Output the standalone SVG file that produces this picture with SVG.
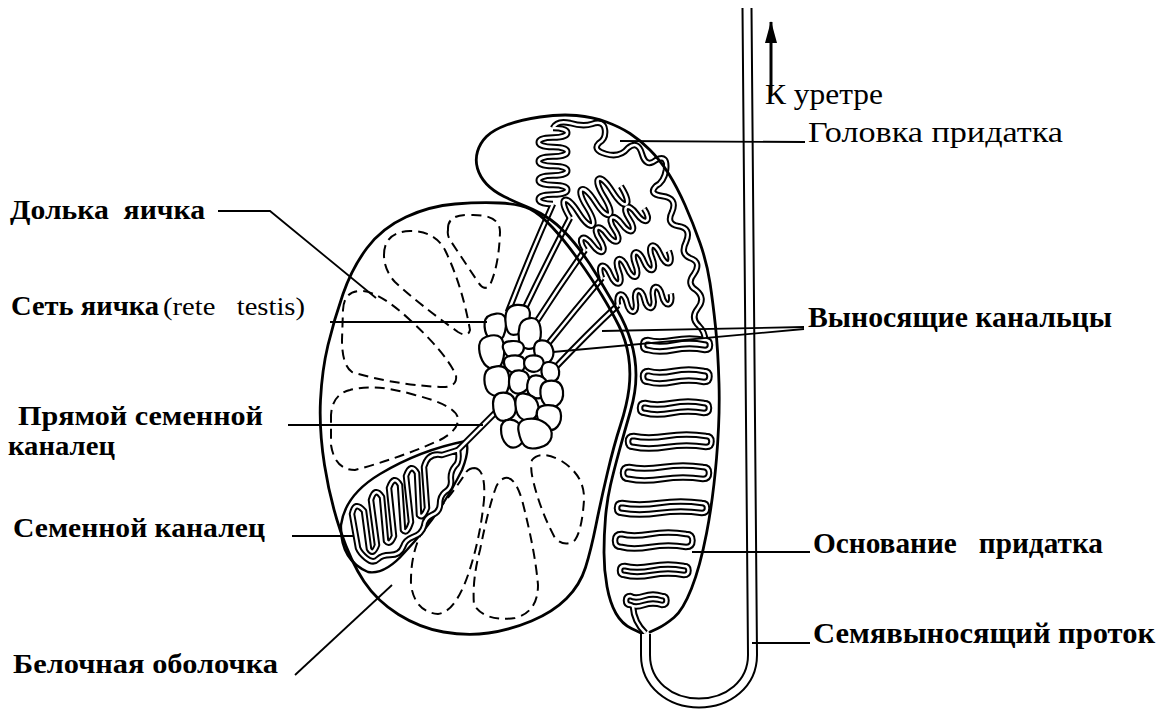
<svg xmlns="http://www.w3.org/2000/svg" width="1157" height="714" viewBox="0 0 1157 714">
<style>
.o{fill:none;stroke:#000;stroke-width:2.8;stroke-linejoin:round;stroke-linecap:round}
.o2{fill:none;stroke:#000;stroke-width:2.4;stroke-linejoin:round}
.dash{fill:none;stroke:#000;stroke-width:2;stroke-dasharray:10 6}
.cell{fill:#fff;stroke:#000;stroke-width:2.2;stroke-linejoin:round;vector-effect:non-scaling-stroke}
.ld{fill:none;stroke:#000;stroke-width:1.8}
.tb{fill:none;stroke:#000;stroke-width:6.5;stroke-linejoin:round}
.tw{fill:none;stroke:#fff;stroke-width:2.5;stroke-linejoin:round}
.vb{fill:none;stroke:#000;stroke-width:11}
.vw{fill:none;stroke:#fff;stroke-width:7}
.lb{font-family:"Liberation Serif","DejaVu Serif",serif;font-weight:700;font-size:27px;fill:#000}
.lr{font-family:"Liberation Serif","DejaVu Serif",serif;font-size:25px;fill:#000}
.rr{font-family:"Liberation Serif","DejaVu Serif",serif;font-size:30px;fill:#000}
.rb{font-family:"Liberation Serif","DejaVu Serif",serif;font-weight:700;font-size:29px;fill:#000}
</style>
<defs>
<marker id="ah" markerUnits="userSpaceOnUse" viewBox="0 0 22 12" refX="21" refY="6" markerWidth="22" markerHeight="12" orient="auto">
<path d="M0,0 L22,6 L0,12 z" fill="#000"/>
</marker>
<path id="hpA" d="M0,0 C0,-19 9.5,-19 9.5,0 S19,19 19,0 S28.5,-19 28.5,0 S38,19 38,0 S47.5,-19 47.5,0 S57,19 57,0 S66.5,-19 66.5,0 S76,19 76,0"/>
<path id="hpB" d="M0,0 C0,-24 10,-24 10,0 S20,24 20,0 S30,-24 30,0 S40,24 40,0 S50,-24 50,0 S60,24 60,0"/>
<path id="swC" d="M0,0 C0,-15 9,-15 9,0 S18,15 18,0 S27,-15 27,0 S36,15 36,0 S45,-15 45,0 S54,15 54,0 S63,-15 63,0 S72,15 72,0"/>
<path id="swD" d="M0,0 C0,-13 9,-13 9,0 S18,13 18,0 S27,-13 27,0 S36,13 36,0 S45,-13 45,0 S54,13 54,0"/>
<g id="tubes">
<path d="M458,450 Q460,462 455,466 Q450,472 451,480 Q452,488 445,492 Q440,496 440,504 Q440,512 432,515 Q425,518 424,526 Q422,534 413,537 Q405,540 403,547 Q400,555 390,555 Q382,555 378,559 Q373,564 366,558 Q360,553 358,548 L352,514 Q355,500 364,511 L369,549 Q373,556 377,545 L371,500 Q375,486 382,497 L386,541 Q390,546 394,536 L389,488 Q394,474 400,485 L403,530 Q407,535 411,522 L406,476 Q411,462 417,473 L419,515 Q423,519 427,508 L424,467 Q428,452 442,455 L458,450"/>
<path d="M457,451 L498,410"/>
<path d="M508,312 Q530,255 553,204"/>
<path d="M522,314 Q547,262 570,218"/>
<path d="M535,324 Q560,285 585,250"/>
<path d="M547,345 Q575,310 602,278"/>
<path d="M553,370 Q588,333 618,305"/>
<use href="#hpA" transform="translate(553,204) rotate(-90)"/>
<use href="#hpB" transform="translate(570,218) rotate(-32)"/>
<use href="#swC" transform="translate(585,250) rotate(-35)"/>
<use href="#swC" transform="translate(602,278) rotate(-22)"/>
<use href="#swD" transform="translate(618,305) rotate(-12)"/>
<path d="M553,128 Q557,120 570,123 Q583,127 592,124 Q604,120 605,130 Q606,139 599,143 Q592,150 606,154 Q620,158 628,148 Q638,140 642,154 Q646,168 656,160 Q668,154 666,170 Q664,182 656,186 Q648,194 662,196 Q678,198 672,212 Q666,224 678,226 Q692,228 686,242 Q680,254 690,258 Q702,262 694,274 Q686,284 696,290 Q706,298 698,308 Q690,318 699,326 Q705,332 705,340"/>
<path d="M705,340 Q689.5,337 674,340 Q658.5,343 648,340 Q643,340 643,345 Q643,350 648,350 Q658.5,353 674,350 Q689.5,347 705,350 Q710,350 710,345 Q710,340 705,340 Z"/>
<path d="M704,371 Q688.75,368 673.5,371 Q658.25,374 648.5,371 Q643,371 643,376.5 Q643,382 648.5,382 Q658.25,385 673.5,382 Q688.75,379 704,382 Q709.5,382 709.5,376.5 Q709.5,371 704,371 Z"/>
<path d="M704,403 Q688,400 672,403 Q656,406 645,403 Q640,403 640,408 Q640,413 645,413 Q656,416 672,413 Q688,410 704,413 Q709,413 709,408 Q709,403 704,403 Z"/>
<path d="M706,436 Q686.5,433 667,436 Q647.5,439 633.5,436 Q628,436 628,441.5 Q628,447 633.5,447 Q647.5,450 667,447 Q686.5,444 706,447 Q711.5,447 711.5,441.5 Q711.5,436 706,436 Z"/>
<path d="M703,467 Q683,464 663,467 Q643,470 629,467 Q623,467 623,473 Q623,479 629,479 Q643,482 663,479 Q683,476 703,479 Q709,479 709,473 Q709,467 703,467 Z"/>
<path d="M702,503 Q680.75,500 659.5,503 Q638.25,506 622,503 Q617,503 617,508 Q617,513 622,513 Q638.25,516 659.5,513 Q680.75,510 702,513 Q707,513 707,508 Q707,503 702,503 Z"/>
<path d="M686,534 Q668.25,531 650.5,534 Q632.75,537 621.5,534 Q615,534 615,540.5 Q615,547 621.5,547 Q632.75,550 650.5,547 Q668.25,544 686,547 Q692.5,547 692.5,540.5 Q692.5,534 686,534 Z"/>
<path d="M684,566 Q668,563 652,566 Q636,569 624.5,566 Q620,566 620,570.5 Q620,575 624.5,575 Q636,578 652,575 Q668,572 684,575 Q688.5,575 688.5,570.5 Q688.5,566 684,566 Z"/>
<path d="M662,596 Q653,593 644,596 Q635,599 630.5,596 Q626,596 626,600.5 Q626,605 630.5,605 Q635,608 644,605 Q653,602 662,605 Q666.5,605 666.5,600.5 Q666.5,596 662,596 Z"/>
<path d="M633,607 Q634,622 645.5,633"/>
</g>
</defs>

<g id="lobules">
<path class="dash" d="M448,230 Q447,214 470,215 Q500,214 500,232 Q499,265 490,285 Q484,292 478,282 Q460,255 450,240 Q447,235 448,230 Z"/>
<path class="dash" d="M384,255 Q384,232 410,231 Q435,231 445,250 Q462,285 470,330 Q468,338 458,332 Q420,305 395,282 Q384,270 384,255 Z"/>
<path class="dash" d="M343,310 Q344,290 362,291 Q380,292 410,320 Q445,352 456,375 Q458,388 440,387 Q390,384 352,372 Q342,365 342,340 Z"/>
<path class="dash" d="M331,420 Q330,395 350,390 Q375,383 415,395 Q455,405 458,418 Q459,430 440,440 Q400,458 355,470 Q335,470 331,445 Z"/>
<path class="dash" d="M475,468 Q486,470 484,500 Q480,540 468,575 Q455,612 438,614 Q415,612 411,585 Q410,545 430,520 Q455,490 465,474 Q468,468 475,468 Z"/>
<path class="dash" d="M505,478 Q515,476 522,500 Q535,550 538,585 Q538,612 515,618 Q485,622 474,605 Q472,580 480,550 Q488,510 495,490 Q498,480 505,478 Z"/>
<path class="dash" d="M532,460 Q540,450 560,460 Q585,475 584,500 Q582,530 575,540 Q565,548 555,538 Q540,510 533,480 Q530,468 532,460 Z"/>
<path class="o2" d="M466,441 Q420,450 380,474 Q345,495 341,525 Q340,560 368,572 Q385,575 405,552 Q440,515 462,470 Q470,450 466,441 Z"/>
</g>

<g id="tubules">
<use href="#tubes" class="tb"/>
<use href="#tubes" class="tw"/>
</g>

<g id="testis">
<path class="o" d="M488.5,633 Q467,636 443.5,632 Q420,628 398.5,614.5 Q377,601 364,581.5 Q351,562 340.5,531 Q330,500 324.5,465 Q319,430 320.5,400 Q322,370 328,345 Q334,320 343,294 Q352,268 367,248 Q382,228 406,217 Q430,206 455,204 Q480,202 500,203 Q520,204 530,209 Q540,214 552.5,227.5 Q565,241 578.5,260 Q592,279 602,295.5 Q612,312 619,326 Q626,340 628.5,356 Q631,372 629,388.5 Q627,405 620.5,425 Q614,445 607.5,472.5 Q601,500 596,525 Q591,550 585.5,567.5 Q580,585 566.5,598.5 Q553,612 531.5,621 Q510,630 488.5,633 Z"/>
</g>

<g id="epididymis">
<path class="o" d="M641,633 L631.5,628.5 Q622,624 616,613.5 Q610,603 607,586.5 Q604,570 604,552.5 Q604,535 605.5,517.5 Q607,500 610.5,485 Q614,470 619.5,450 Q625,430 630.5,411 Q636,392 636,375 Q636,358 631,341.5 Q626,325 617,309.5 Q608,294 597,275.5 Q586,257 574,242.5 Q562,228 551,220 Q540,212 527.5,207 Q515,202 504,196.5 Q493,191 486.5,184 Q480,177 477.5,168.5 Q475,160 477.5,151.5 Q480,143 486.5,136.5 Q493,130 506.5,125 Q520,120 540,117 Q560,114 576.5,115.5 Q593,117 606.5,122 Q620,127 630,133.5 Q640,140 650,150 Q660,160 668.5,173.5 Q677,187 685,205 Q693,223 700,243 Q707,263 710,283 Q713,303 715.5,326.5 Q718,350 719,383.5 Q720,417 716.5,458.5 Q713,500 706.5,533.5 Q700,567 691.5,588.5 Q683,610 674,617.5 Q665,625 657.5,628.5 L650,632"/>
</g>

<g id="rete">
<path class="cell" transform="matrix(1.22,0,0,1.22,-108.9,-71.94)" d="M486.5,323.5 Q487,317 496,316 Q505,315 504,326 Q503,337 497.5,338.5 Q492,340 489,335 Q486,330 486.5,323.5Z"/>
<path class="cell" transform="matrix(1.22,0,0,1.22,-113.74,-70.18)" d="M507.5,320 Q507,308 517,307.5 Q527,307 527.5,313.5 Q528,320 524,326 Q520,332 514,332 Q508,332 507.5,320Z"/>
<path class="cell" transform="matrix(1.22,0,0,1.22,-116.6,-73.48)" d="M521.5,327.5 Q523,322 530,321 Q537,320 538.5,328.5 Q540,337 536.5,342 Q533,347 527.5,346 Q522,345 521,339 Q520,333 521.5,327.5Z"/>
<path class="cell" transform="matrix(1.22,0,0,1.22,-119.68,-77.44)" d="M536,351.5 Q535,343 541.5,342.5 Q548,342 550.5,347.5 Q553,353 550.5,357.5 Q548,362 542.5,361 Q537,360 536,351.5Z"/>
<path class="cell" transform="matrix(1.22,0,0,1.22,-108.24,-77.44)" d="M481.5,346.5 Q482,340 491,338.5 Q500,337 501.5,345 Q503,353 500.5,360 Q498,367 492.5,366 Q487,365 484,359 Q481,353 481.5,346.5Z"/>
<path class="cell" transform="matrix(1.22,0,0,1.22,-112.86,-76.78)" d="M505,349 Q503,343 511.5,342.5 Q520,342 521.5,346 Q523,350 519,353.5 Q515,357 511,356 Q507,355 505,349Z"/>
<path class="cell" transform="matrix(1.22,0,0,1.22,-113.08,-80.08)" d="M506,361 Q507,357 515,357 Q523,357 523,363.5 Q523,370 517.5,371 Q512,372 508.5,368.5 Q505,365 506,361Z"/>
<path class="cell" transform="matrix(1.22,0,0,1.22,-117.48,-80.08)" d="M526,362 Q527,357 533.5,357 Q540,357 541.5,361 Q543,365 539,368.5 Q535,372 530,369.5 Q525,367 526,362Z"/>
<path class="cell" transform="matrix(1.22,0,0,1.22,-121,-81.84)" d="M543.5,367.5 Q545,363 551,364 Q557,365 557.5,371.5 Q558,378 552.5,380 Q547,382 544.5,377 Q542,372 543.5,367.5Z"/>
<path class="cell" transform="matrix(1.22,0,0,1.22,-109.34,-83.82)" d="M487,376 Q488,370 496.5,369 Q505,368 506.5,375.5 Q508,383 505.5,389 Q503,395 496.5,393.5 Q490,392 488,387 Q486,382 487,376Z"/>
<path class="cell" transform="matrix(1.22,0,0,1.22,-114.18,-84.04)" d="M511,379.5 Q512,372 519.5,372.5 Q527,373 527.5,380 Q528,387 523,390 Q518,393 514,390 Q510,387 511,379.5Z"/>
<path class="cell" transform="matrix(1.22,0,0,1.22,-118.14,-85.14)" d="M529,385 Q530,377 536.5,377.5 Q543,378 545,383 Q547,388 543.5,393 Q540,398 534,395.5 Q528,393 529,385Z"/>
<path class="cell" transform="matrix(1.22,0,0,1.22,-121.44,-86.68)" d="M542.5,390.5 Q543,383 551.5,383 Q560,383 561,391.5 Q562,400 556,403.5 Q550,407 546,402.5 Q542,398 542.5,390.5Z"/>
<path class="cell" transform="matrix(1.22,0,0,1.22,-110.88,-89.32)" d="M495,404 Q495,395 503.5,395 Q512,395 513.5,404 Q515,413 509,416.5 Q503,420 499,416.5 Q495,413 495,404Z"/>
<path class="cell" transform="matrix(1.22,0,0,1.22,-115.94,-89.54)" d="M517.5,405 Q517,395 525,396 Q533,397 535.5,403.5 Q538,410 534,415 Q530,420 524,417.5 Q518,415 517.5,405Z"/>
<path class="cell" transform="matrix(1.22,0,0,1.22,-120.78,-91.96)" d="M539,415.5 Q538,408 547.5,407.5 Q557,407 558.5,413.5 Q560,420 556,425 Q552,430 546,426.5 Q540,423 539,415.5Z"/>
<path class="cell" transform="matrix(1.22,0,0,1.22,-112.64,-95.26)" d="M503,430 Q503,422 510.5,422 Q518,422 520.5,431 Q523,440 517.5,443.5 Q512,447 507.5,442.5 Q503,438 503,430Z"/>
<path class="cell" transform="matrix(1.22,0,0,1.22,-117.7,-95.26)" d="M521.5,431.5 Q520,423 528.5,421.5 Q537,420 543.5,425 Q550,430 548.5,436.5 Q547,443 538.5,445 Q530,447 526.5,443.5 Q523,440 521.5,431.5Z"/>
</g>

<g id="vas-deferens">
<path class="vb" d="M645.5,634 L645.5,655 C645.5,684 670,703 699,703 C728,703 752.5,684 752.5,655 L747,8"/>
<path class="vw" d="M645.5,634 L645.5,655 C645.5,684 670,703 699,703 C728,703 752.5,684 752.5,655 L747,8"/>
</g>

<g id="connectors">
<path class="ld" d="M218,211 L270,211 L376,298"/>
<path class="ld" d="M330,322 L487,322"/>
<path class="ld" d="M288,425 L483,425"/>
<path class="ld" d="M292,536 L353,536"/>
<path class="ld" d="M295,675 L392,585"/>
<path class="ld" d="M620,141 L805,142"/>
<path class="ld" d="M602,331 L804,327"/>
<path class="ld" d="M553,352 L804,329"/>
<path class="ld" d="M692,552 L810,552"/>
<path class="ld" d="M752,643 L810,643"/>
<path d="M771,95 L771,22" stroke="#000" stroke-width="3" fill="none" marker-end="url(#ah)"/>
</g>

<g id="labels">
<text class="lb" x="10" y="219" textLength="195" lengthAdjust="spacingAndGlyphs" xml:space="preserve">Долька  яичка</text>
<text class="lb" x="11" y="315" textLength="148" lengthAdjust="spacingAndGlyphs">Сеть яичка</text>
<text class="lr" x="163" y="315" textLength="142" lengthAdjust="spacingAndGlyphs" xml:space="preserve">(rete   testis)</text>
<text class="lb" x="18" y="425" textLength="245" lengthAdjust="spacingAndGlyphs">Прямой семенной</text>
<text class="lb" x="8" y="455" textLength="107" lengthAdjust="spacingAndGlyphs">каналец</text>
<text class="lb" x="13" y="537" textLength="252" lengthAdjust="spacingAndGlyphs">Семенной каналец</text>
<text class="lb" x="13" y="673" textLength="265" lengthAdjust="spacingAndGlyphs">Белочная оболочка</text>
<text class="rr" x="765" y="104" textLength="118" lengthAdjust="spacingAndGlyphs">К уретре</text>
<text class="rr" x="808" y="142" textLength="255" lengthAdjust="spacingAndGlyphs">Головка придатка</text>
<text class="rb" x="808" y="327" textLength="304" lengthAdjust="spacingAndGlyphs">Выносящие канальцы</text>
<text class="rb" x="813" y="553" textLength="290" lengthAdjust="spacingAndGlyphs" xml:space="preserve">Основание   придатка</text>
<text class="rb" x="813" y="643" textLength="342" lengthAdjust="spacingAndGlyphs">Семявыносящий проток</text>
</g>
</svg>
